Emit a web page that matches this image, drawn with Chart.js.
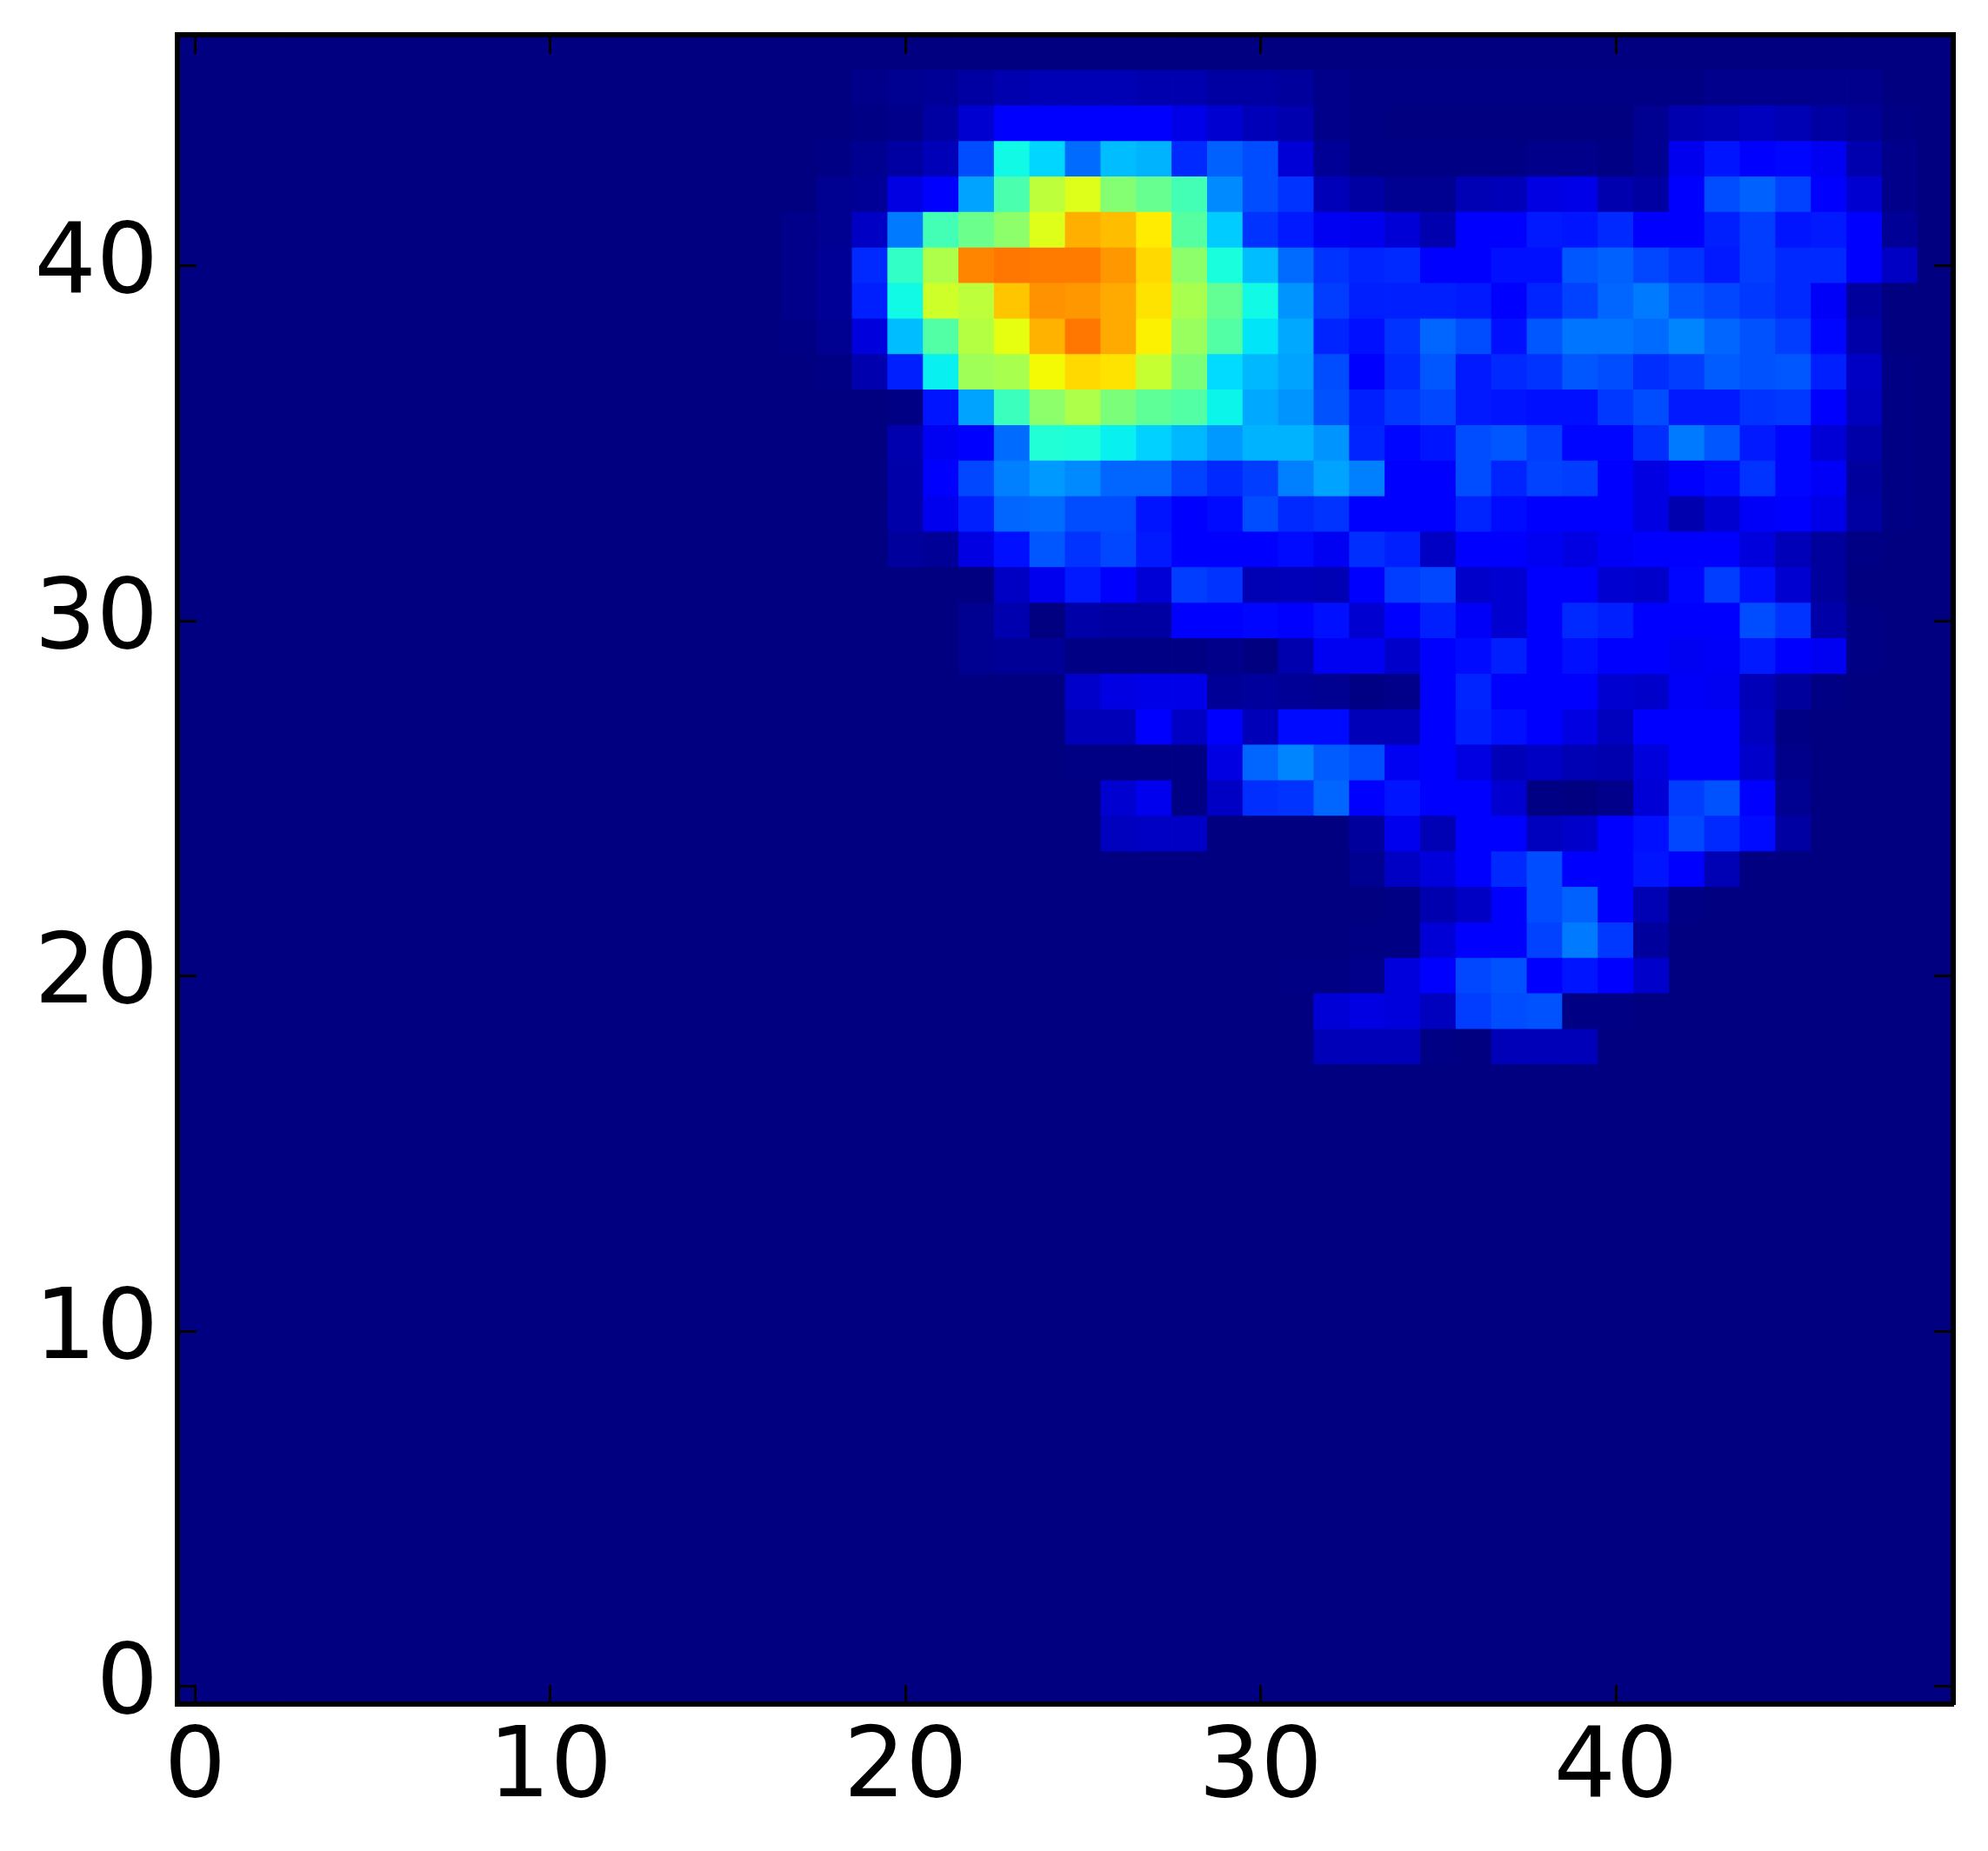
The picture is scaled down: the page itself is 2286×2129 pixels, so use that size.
<!DOCTYPE html>
<html><head><meta charset="utf-8">
<style>html,body{margin:0;padding:0;background:#fff}canvas{display:block}</style>
<script src="https://cdn.jsdelivr.net/npm/chart.js@4"></script>
</head><body>
<canvas id="c" width="2286" height="2129"></canvas>
<script>
// Heat values, on a 0-100 scale of the jet colour map.
// Each row lists columns starting at firstColumn; anything not listed is 0.
const columnCount = 50;
const rowCount = 47;
const firstColumn = 17;
const xTickValues = [0,10,20,30,40];
const yTickValues = [0,10,20,30,40];
const row18 = [0,0,0,0,0,0,0,0,0,0,0,0,0,0,0,5,5,5,.5,0,5,5,5];
const row19 = [0,0,0,0,0,0,0,0,0,0,0,0,0,0,0,7.5,8.5,8,5.5,18.5,20,20.5,.5,.5];
const row20 = [0,0,0,0,0,0,0,0,0,0,0,0,0,0,.5,.5,1,8,11.5,19.5,20.5,12.5,14.5,12,6.5];
const row21 = [0,0,0,0,0,0,0,0,0,0,0,0,0,0,0,0,.5,.5,7.5,12,12,19,24.5,18,2.5];
const row22 = [0,0,0,0,0,0,0,0,0,0,0,0,0,0,0,0,0,.5,4,6,12,20,22,12,4.5,.5];
const row23 = [0,0,0,0,0,0,0,0,0,0,0,0,0,0,0,0,1.5,6,8,11.5,16.5,20,12.5,12.5,14.5,11.5,4.5];
const row24 = [0,0,0,0,0,0,0,0,0,5.5,6,6,0,0,0,0,2.5,9.5,4.5,12,12,5.5,6.5,11,14,19.5,16.5,13.5,3];
const row25 = [0,0,0,0,0,0,0,0,0,7,9.5,.5,6,17,17.5,22.5,12,14.5,12,12,7,.5,0,1,7.5,18.5,20.5,12,1.5];
const row26 = [0,0,0,0,0,0,0,0,.5,.5,.5,.5,8.5,22.5,25.5,21.5,20,10,12,8.5,5,6,4.5,4,8,11.5,12,6.5,1];
const row27 = [0,0,0,0,0,0,0,0,5,5,12,6,11,5,13.5,13.5,5,5,11.5,15.5,14,11,8.5,5.5,11.5,12,12,5.5,.5];
const row28 = [0,0,0,0,0,0,0,0,6.5,8.5,9,9,2,2.5,2,1.5,.5,1,11.5,16,12.5,12,12,7,6.5,10.5,10,5,2.5,.5];
const row29 = [0,0,0,0,0,1.5,2,2,.5,.5,.5,.5,1,0,4,10,10,6.5,11,13.5,15.5,12.5,14,11,11,10,10.5,15,12,10,.5];
const row30 = [0,0,0,0,0,1.5,4,0,3.5,3,3,12,12.5,13,12.5,14,7,12,15.5,10.5,7,11.5,16.5,15.5,11.5,12,12,20,17.5,3.5,.5];
const row31 = [0,0,0,0,0,0,6,9.5,15,12,7.5,18.5,17.5,4.5,5,4.5,12,18.5,19.5,6.5,7,12,12,7,6.5,13,18.5,14,7,2.5];
const row32 = [0,0,0,2.5,2,8.5,14,21,17.5,19.5,15,11,12,12.5,13.5,10,17,15.5,6,11.5,11.5,10,8.5,10.5,11,12,12,8,5,2.5,.5];
const row33 = [0,0,0,3.5,9.5,15.5,22.5,23,20,20,14.5,12,13.5,20,16.5,17.5,12.5,12.5,12.5,16,13.5,12,12,11.5,8.5,4,7,10.5,12.5,9,3,.5];
const row34 = [0,0,0,3.5,12,19.5,25,27.5,26,22.5,22.5,19,16.5,18.5,25,28.5,25,12,12.5,20,16,19,18.5,12,8.5,11,13.5,17.5,13,10.5,2.5,.5];
const row35 = [0,0,0,4,10,12.5,23,39,38.5,36,33,30.5,27.5,30,30,27,16,13,14.5,20,21,18.5,13,13,17,24.5,21,15,13,7.5,3.5,.5];
const row36 = [0,0,0,.5,14.5,28.5,42,52,56,50,46.5,45,36.5,29,27,20.5,15.5,18,19.5,15,14.5,14,14,18,20,15,15,17.5,18,12,5.5,.5];
const row37 = [0,.5,4,15.5,36,54.5,55.5,64.5,68,67,59,50,34,30.5,28.5,20,12.5,16.5,21,15,16.5,17.5,21,20,17,18.5,21.5,20.5,21,15.5,6,.5];
const row38 = [.5,1.5,8,31,45,57,63,72,78.5,73,65.5,53.5,45,35,29,16,14,17.5,22.5,20,14,21,24,24,23,25.5,22.5,20.5,18.5,13,3.5];
const row39 = [1,2,15.5,37,60,58,70,75.5,75,73,67,55.5,47,37,27,18.5,15.5,15.5,15.5,15,12.5,16,19,22.5,24.5,21,19.5,18,16.5,10.5,2.5];
const row40 = [1,2,16.5,41,56,77,78.5,78,78,75,68,52,38,31,23,17.5,16,16.5,12.5,12,14,14,21,22,19.5,17.5,15,18.5,16.5,16.5,12,6];
const row41 = [1,1.5,6,24.5,43,48,52,62,72.5,71,66,45.5,32.5,17.5,15,10,9.5,7.5,4,12,12,15,14.5,16.5,12,12,15.5,18.5,14.5,15,12,2];
const row42 = [0,1.5,2,8.5,12,28.5,44,58,62,51,47.5,43,26,20,17.5,5,3,1.5,1.5,4.5,5,8.5,9,4,3,12,20,22,19,12,7,1];
const row43 = [0,.5,1.5,3,5,20,37,33.5,23,31,30,16.5,22,20,7.5,2,.5,.5,.5,.5,.5,1,1,.5,1.5,9.5,14.5,12.5,13,10,4,1];
const row44 = [0,0,.5,1,3,7,11.5,12,12,12,11,9,7,5,4,1,.5,0,0,0,0,0,0,0,1.5,4,4.5,5.5,4.5,3,2,.5];
const row45 = [0,0,1,1.5,2,3,4,4.5,4.5,4.5,4,4,3,3,2.5,1,.5,.5,.5,.5,.5,.5,.5,.5,.5,.5,1.2,1.2,1.2,1.2,1.2];
const emptyRow = [];
const rowsFromBottom = [
  emptyRow,emptyRow,emptyRow,emptyRow,emptyRow,emptyRow,emptyRow,emptyRow,emptyRow,
  emptyRow,emptyRow,emptyRow,emptyRow,emptyRow,emptyRow,emptyRow,emptyRow,emptyRow,
  row18,row19,row20,row21,row22,row23,row24,row25,row26,row27,row28,row29,row30,row31,
  row32,row33,row34,row35,row36,row37,row38,row39,row40,row41,row42,row43,row44,row45,
  emptyRow
];

// Matplotlib "jet" segments
const jetRed = [[0,0],[.35,0],[.66,1],[.89,1],[1,.5]];
const jetGreen = [[0,0],[.125,0],[.375,1],[.64,1],[.91,0],[1,0]];
const jetBlue = [[0,.5],[.11,1],[.34,1],[.65,0],[1,0]];
function seg(points, t){
  for(let i=1;i<points.length;i++){
    if(t<=points[i][0]){
      const [a,av]=points[i-1],[b,bv]=points[i];
      return av+(bv-av)*(t-a)/(b-a);
    }
  }
  return points[points.length-1][1];
}
function jet(v){
  const t=Math.max(0,Math.min(1,v/100));
  return `rgb(${Math.round(seg(jetRed,t)*255)},${Math.round(seg(jetGreen,t)*255)},${Math.round(seg(jetBlue,t)*255)})`;
}
const columns = Array.from({length:columnCount},(_,c)=>c);
const datasets = rowsFromBottom.map((row,r)=>{
  const vals = columns.map(c=> c>=firstColumn && row[c-firstColumn]!==undefined ? row[c-firstColumn] : 0);
  return {
    label:'row '+r,
    data: columns.map(c=>({x:c,y:[r-.5,r+.5]})),
    backgroundColor: vals.map(jet),
    borderWidth:0,
    barPercentage:1,
    categoryPercentage:1,
    grouped:false,
    inflateAmount:.4
  };
});
const TICK_LEN = 22;
const xTickFont = {family:'"DejaVu Sans"',size:112};
// A leading blank line nudges each y label down by half of this line height.
const yTickFont = {family:'"DejaVu Sans"',size:112,lineHeight:'3px'};
const innerGrid = {offset:false,drawOnChartArea:false,drawTicks:true,tickLength:-TICK_LEN,tickWidth:3,tickColor:'#000',z:1};
const frame = {display:true,color:'#000',width:6,z:2};
const xRange = {min:-.5,max:columnCount-.5};
const yRange = {min:-.5,max:rowCount-.5};
const setTicks = values => s => { s.ticks = values.map(value=>({value})); };
const noPad = s => { s.paddingLeft=0; s.paddingRight=0; s.paddingTop=0; s.paddingBottom=0; };
new Chart(document.getElementById('c'),{
  type:'bar',
  data:{datasets},
  options:{
    responsive:false,
    devicePixelRatio:1,
    animation:false,
    events:[],
    layout:{autoPadding:false,padding:{left:0,top:40,right:40,bottom:0}},
    plugins:{legend:{display:false},tooltip:{enabled:false},title:{display:false}},
    scales:{
      x:{type:'linear',position:'bottom',...xRange,offset:false,grid:innerGrid,border:frame,
         afterBuildTicks:setTicks(xTickValues),
         ticks:{autoSkip:false,font:xTickFont,color:'#000',padding:TICK_LEN+10,maxRotation:0,minRotation:0},
         afterFit(s){noPad(s);s.height=169;}},
      y:{type:'linear',position:'left',...yRange,grid:innerGrid,border:frame,
         afterBuildTicks:setTicks(yTickValues),
         ticks:{autoSkip:false,font:yTickFont,color:'#000',padding:TICK_LEN+22,callback:v=>['',String(v)]},
         afterFit(s){noPad(s);s.width=204;}},
      x2:{type:'linear',axis:'x',position:'top',...xRange,offset:false,grid:innerGrid,border:frame,
         afterBuildTicks:setTicks(xTickValues),
         ticks:{autoSkip:false,display:false},
         afterFit(s){noPad(s);s.height=0;}},
      y2:{type:'linear',axis:'y',position:'right',...yRange,grid:innerGrid,border:frame,
         afterBuildTicks:setTicks(yTickValues),
         ticks:{autoSkip:false,display:false},
         afterFit(s){noPad(s);s.width=0;}}
    }
  }
});
</script>
</body></html>
